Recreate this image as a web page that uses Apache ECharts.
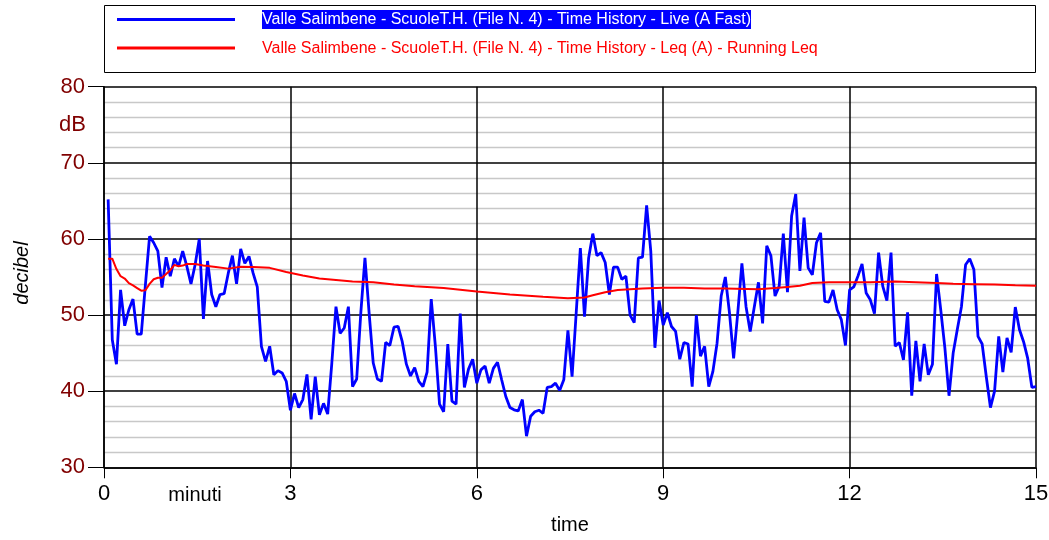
<!DOCTYPE html>
<html><head><meta charset="utf-8">
<script src="https://cdn.jsdelivr.net/npm/echarts@6/dist/echarts.min.js"></script>
<style>html,body{margin:0;padding:0;background:#fff}#c{width:1049px;height:540px}</style>
</head><body><div id="c"></div>
<script>
const liveName = 'Valle Salimbene - ScuoleT.H. (File N. 4) - Time History - Live (A Fast)';
const leqName = 'Valle Salimbene - ScuoleT.H. (File N. 4) - Time History - Leq (A) - Running Leq';
const sampleSeconds = 4; // one reading every 4 s, first reading at sample 1
const liveValues = [
65.2,46.75,43.55,53.3,48.6,50.7,52.1,47.5,47.5,54.0,
60.35,59.5,58.4,53.6,57.6,55.1,57.4,56.4,58.4,56.4,
54.1,56.6,60.0,49.5,57.1,52.7,51.1,52.7,52.8,55.5,
57.8,54.1,58.7,56.8,57.7,55.5,53.7,45.9,43.9,45.9,
42.15,42.7,42.4,41.3,37.5,39.7,37.85,38.9,42.2,36.3,
41.9,36.9,38.4,37.0,43.7,51.1,47.6,48.3,51.1,40.6,
41.6,50.3,57.5,50.3,43.7,41.6,41.3,46.4,46.0,48.4,
48.5,46.5,43.55,42.0,43.1,41.3,40.6,42.5,52.1,45.9,
38.3,37.3,46.2,38.7,38.3,50.2,40.5,42.9,44.2,41.05,
42.8,43.3,41.05,43.0,43.8,41.5,39.3,37.85,37.55,37.4,
38.9,34.1,36.7,37.3,37.5,37.1,40.5,40.6,41.05,40.1,
41.5,48.0,41.9,50.3,58.8,49.8,57.5,60.7,57.8,58.2,
56.9,52.7,56.3,56.3,54.7,55.1,50.0,49.0,57.5,57.6,
64.4,58.4,45.7,51.9,48.7,50.3,48.5,47.85,44.2,46.4,
46.2,40.6,50.0,44.6,45.9,40.6,42.6,46.3,52.5,55.0,
50.3,44.3,50.3,56.8,51.1,47.85,51.1,54.3,48.9,59.1,
57.8,52.5,53.8,60.7,53.0,63.0,65.9,55.8,62.8,56.2,
55.3,59.5,60.8,51.8,51.7,53.3,50.7,49.4,46.0,53.3,
53.7,55.1,56.7,52.9,52.0,50.2,58.2,53.8,51.9,58.2,
45.9,46.4,44.1,50.35,39.4,46.6,41.3,46.2,42.15,43.55,
55.4,50.7,45.7,39.4,45.0,48.1,51.1,56.6,57.4,56.0,
47.2,46.2,41.9,37.85,40.0,47.2,42.5,47.0,45.1,51.05,
48.1,46.5,44.3,40.5,40.6
];
const leqSamples = [1,2,3,4,5,6,7,8,9,10,11,12,13,14,15,16,17,18,19,20,22,24,27,30,33,36,40,44,48,52,56,60,65,70,75,82,90,98,106,112,116,118,121,124,130,135,140,145,150,158,162,165,168,171,175,185,191,196,201,205,210,215,220,225];
const leqValues = [57.4,57.4,56.05,55.1,54.8,54.2,53.9,53.55,53.2,53.25,54.1,54.7,54.9,54.9,55.4,55.9,56.6,56.4,56.5,56.7,56.7,56.5,56.3,56.1,56.35,56.3,56.2,55.65,55.2,54.8,54.6,54.4,54.3,54.0,53.8,53.55,53.1,52.7,52.4,52.2,52.3,52.6,53.0,53.3,53.5,53.6,53.6,53.5,53.5,53.4,53.55,53.7,53.85,54.2,54.3,54.3,54.4,54.3,54.2,54.1,54.05,54.0,53.9,53.85];
const xMin = 0, xMax = 15, xStep = 3;
const yMin = 30, yMax = 80, yStep = 10;

const FONT = "'Liberation Sans Narrow','Arial Narrow','Liberation Sans',Arial,sans-serif";
const toMin = s => s * sampleSeconds / 60;
const liveData = liveValues.map((v, i) => [toMin(i + 1), v]);
const leqData = leqValues.map((v, i) => [toMin(leqSamples[i]), v]);

const chart = echarts.init(document.getElementById('c'), null, {renderer: 'canvas'});
chart.setOption({
  animation: false,
  backgroundColor: '#fff',
  textStyle: {fontFamily: FONT},
  grid: {left: 104, right: 13, top: 86.7, bottom: 72.7, containLabel: false, outerBoundsMode: 'none'},
  legend: {
    orient: 'vertical', left: 112, top: 5, itemGap: 11,
    itemWidth: 118, itemHeight: 3, icon: 'rect',
    selectedMode: false,
    data: [liveName, leqName],
    formatter: n => n === liveName ? '{g|}{a|' + n + '}' : '{g|}{b|' + n + '}',
    textStyle: {
      fontFamily: FONT, fontSize: 16,
      rich: {
        g: {width: 22},
        a: {backgroundColor: '#0000ff', color: '#ffffff', fontSize: 16, fontFamily: FONT, padding: [2, 0, 1, 0]},
        b: {color: '#ff0000', fontSize: 16, fontFamily: FONT, padding: [2, 0, 1, 0]}
      }
    }
  },
  graphic: [
    {type: 'rect', shape: {x: 104.5, y: 5.5, width: 931, height: 67}, style: {fill: 'none', stroke: '#000', lineWidth: 1}, z: 0},
    {type: 'text', x: 86, y: 125, style: {text: 'dB', fill: '#800000', font: '22px ' + FONT, align: 'right', verticalAlign: 'middle'}},
    {type: 'text', x: 22, y: 273, rotation: Math.PI / 2, style: {text: 'decibel', fill: '#000', font: 'italic 20px ' + FONT, align: 'center', verticalAlign: 'middle'}},
    {type: 'text', x: 195, y: 495, style: {text: 'minuti', fill: '#000', font: '20px ' + FONT, align: 'center', verticalAlign: 'middle'}}
  ],
  xAxis: {
    type: 'value', min: xMin, max: xMax, interval: xStep,
    name: 'time', nameLocation: 'middle', nameGap: 48,
    nameTextStyle: {color: '#000', fontSize: 20, fontFamily: FONT},
    axisLine: {show: true, lineStyle: {color: '#000', width: 1.5}},
    axisTick: {show: true, length: 11, lineStyle: {color: '#000', width: 1}},
    axisLabel: {color: '#000', fontSize: 22, fontFamily: FONT, margin: 16},
    splitLine: {show: true, lineStyle: {color: '#000', width: 1.5}}
  },
  yAxis: {
    type: 'value', min: yMin, max: yMax, interval: yStep,
    axisLine: {show: true, lineStyle: {color: '#000', width: 1.5}},
    axisTick: {show: true, length: 16, lineStyle: {color: '#000', width: 1}},
    axisLabel: {color: '#800000', fontSize: 22, fontFamily: FONT, margin: 19},
    splitLine: {show: true, lineStyle: {color: '#000', width: 1.5}},
    minorTick: {show: false, splitNumber: 5},
    minorSplitLine: {show: true, lineStyle: {color: '#c8c8c8', width: 1.3}}
  },
  series: [
    {name: liveName, type: 'line', data: liveData, showSymbol: false, symbol: 'none',
     lineStyle: {color: '#0000ff', width: 2.8}, itemStyle: {color: '#0000ff'}, z: 3},
    {name: leqName, type: 'line', data: leqData, showSymbol: false, symbol: 'none',
     lineStyle: {color: '#ff0000', width: 2}, itemStyle: {color: '#ff0000'}, z: 4}
  ]
});
</script></body></html>
